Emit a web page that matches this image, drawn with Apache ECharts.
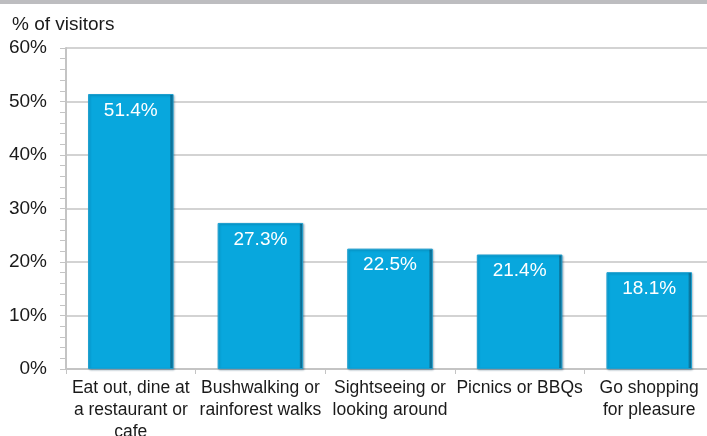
<!DOCTYPE html>
<html>
<head>
<meta charset="utf-8">
<script src="https://cdn.jsdelivr.net/npm/echarts@6/dist/echarts.min.js"></script>
<style>
  html, body { margin: 0; padding: 0; background: #ffffff; }
  #chart { width: 707px; height: 436px; }
</style>
</head>
<body>
<div id="chart"></div>
<script>
// Activities undertaken by visitors (% of visitors)
const categories = [
  'Eat out, dine at\na restaurant or\ncafe',
  'Bushwalking or\nrainforest walks',
  'Sightseeing or\nlooking around',
  'Picnics or BBQs',
  'Go shopping\nfor pleasure'
];
const shares = [51.4, 27.3, 22.5, 21.4, 18.1];
const yTicks = [0, 10, 20, 30, 40, 50, 60];

const FONT = '"Liberation Sans", Arial, sans-serif';
const chart = echarts.init(document.getElementById('chart'), null, { renderer: 'canvas' });

// bevelled fill: light left edge, dark right edge
const barFill = new echarts.graphic.LinearGradient(0, 0, 1, 0, [
  { offset: 0, color: '#2cb8e6' },
  { offset: 0.025, color: '#08a7dd' },
  { offset: 0.955, color: '#08a7dd' },
  { offset: 0.965, color: '#0a7ea8' },
  { offset: 1, color: '#0b5f80' }
]);

chart.setOption({
  animation: false,
  backgroundColor: '#ffffff',
  graphic: [
    { type: 'rect', left: 0, top: 0, shape: { width: 707, height: 4 }, style: { fill: '#bdbdc0' } }
  ],
  title: {
    text: '% of visitors',
    left: 7, top: 10,
    textStyle: { fontFamily: FONT, fontSize: 19, fontWeight: 'normal', color: '#1a1a1a' }
  },
  grid: { left: 66, right: -7, top: 48, bottom: 67, containLabel: false, outerBoundsMode: 'none' },
  xAxis: {
    type: 'category',
    data: categories,
    axisLine: { show: true, lineStyle: { color: '#c4c4c4', width: 2 } },
    axisTick: { show: true, length: 5, lineStyle: { color: '#c4c4c4' } },
    axisLabel: {
      interval: 0, margin: 8, fontFamily: FONT, fontSize: 17.5, color: '#1a1a1a', lineHeight: 22
    }
  },
  yAxis: {
    type: 'value',
    min: yTicks[0], max: yTicks[yTicks.length - 1], interval: 10,
    axisLine: { show: true, lineStyle: { color: '#c4c4c4', width: 2 } },
    axisTick: { show: true, length: 6, lineStyle: { color: '#c4c4c4' } },
    minorTick: { show: true, splitNumber: 5, length: 6, lineStyle: { color: '#c4c4c4' } },
    splitLine: { show: true, lineStyle: { color: '#c4c4c4', width: 1.5 } },
    axisLabel: {
      margin: 19, fontFamily: FONT, fontSize: 19, color: '#1a1a1a',
      formatter: '{value}%'
    }
  },
  series: [{
    type: 'bar',
    data: shares,
    barCategoryGap: '34%',
    itemStyle: {
      color: barFill,
      borderColor: '#1e9fcf',
      borderWidth: 1,
      shadowColor: 'rgba(0,50,80,0.3)',
      shadowOffsetX: 1,
      shadowOffsetY: 1,
      shadowBlur: 2
    },
    label: {
      show: true,
      position: 'insideTop',
      distance: 7,
      fontFamily: FONT,
      fontSize: 19,
      color: '#ffffff',
      formatter: p => p.value.toFixed(1) + '%'
    }
  }]
});
</script>
</body>
</html>
